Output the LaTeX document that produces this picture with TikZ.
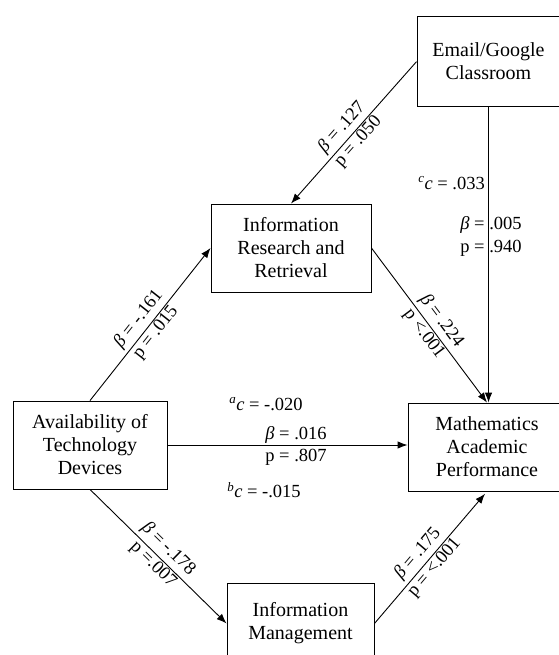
\documentclass[tikz,border=0pt]{standalone}
\usepackage{fontspec}
\setmainfont{Liberation Serif}
\usetikzlibrary{arrows.meta}
\begin{document}
\begin{tikzpicture}[x=1pt,y=-1pt,
  box/.style={draw, line width=0.9pt, align=center, inner sep=0pt, font=\fontsize{20}{23}\selectfont},
  arr/.style={line width=0.9pt, -{Latex[length=10pt,width=7.5pt]}},
  lab/.style={font=\fontsize{18.5}{22}\selectfont, inner sep=0pt},
  up/.style={lab, sloped, anchor=south, inner ysep=3.5pt},
  dn/.style={lab, sloped, anchor=north, inner ysep=1pt}]
\useasboundingbox (0,0) rectangle (558,655);
\node[box, minimum width=143pt, minimum height=90pt] (email) at (488.5,61.6) {Email/Google\\Classroom};
\node[box, minimum width=160pt, minimum height=88pt] (irr) at (291,248) {Information\\Research and\\Retrieval};
\node[box, minimum width=154pt, minimum height=88pt] (avail) at (90,445) {Availability of\\Technology\\Devices};
\node[box, minimum width=158pt, minimum height=88pt] (math) at (487,447) {Mathematics\\Academic\\Performance};
\node[box, minimum width=147pt, minimum height=81pt] (im) at (300.5,623.5) {Information\\Management};

\draw[arr] (email.west) -- node[up,pos=.52]{\textit{β} = .127} node[dn,pos=.52]{p = .050} (irr.north);
\draw[arr] (email.south) -- (email.south |- math.north);
\draw[arr] (irr.east) -- node[up,pos=.52]{\textit{β} = .224} node[dn,pos=.52]{p <.001} (math.north);
\draw[arr] (avail.north) -- node[up,pos=.485]{\textit{β} = -.161} node[dn,pos=.485]{p = .015} (irr.west);
\draw[arr] (avail.east) -- (avail.east -| math.west);
\draw[arr] (avail.south) -- node[up,pos=.51]{\textit{β} = -.178} node[dn,pos=.51]{p =.007} (im.west);
\draw[arr, shorten >=3pt] (im.east) -- node[up,pos=.47]{\textit{β} = .175} node[dn,pos=.47]{p = <.001} (math.south);

\node[lab, anchor=east] (cc) at (485,183) {\textsuperscript{\textit{c}}\textit{c} = .033};
\node[lab] (cb) at (491,225) {\textit{β} = .005};
\node[lab] (cp) at (491,248) {p = .940};
\node[lab] (ac) at (266,404) {\textsuperscript{\textit{a}}\textit{c} = -.020};
\node[lab] (ab) at (296,434.5) {\textit{β} = .016};
\node[lab] (ap) at (296,457.5) {p = .807};
\node[lab] (bc) at (264,490) {\textsuperscript{\textit{b}}\textit{c} = -.015};
\end{tikzpicture}
\end{document}
